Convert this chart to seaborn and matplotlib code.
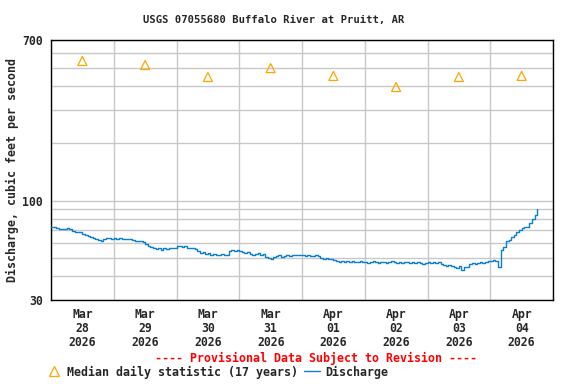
"""USGS gage 07055680 (Buffalo River at Pruitt, AR): recent discharge vs. daily median."""

import matplotlib

matplotlib.use("Agg")

import matplotlib.dates as mdates
import matplotlib.pyplot as plt
import pandas as pd
import seaborn as sns
from matplotlib.lines import Line2D
from matplotlib.ticker import FixedFormatter, FixedLocator, NullFormatter

# --- data ------------------------------------------------------------------
START = "2026-03-28 00:00"
END = "2026-04-05 00:00"

MEDIAN_DAYS = pd.date_range("2026-03-28 12:00", periods=8, freq="D")
MEDIAN_CFS = [543, 517, 447, 498, 453, 396, 447, 453]

# hourly discharge, cfs
DISCHARGE_MAR28 = [72.5, 72.5, 72, 71, 71, 70.5, 71.5, 71, 69, 68.5, 68, 68.5,
                   66.5, 66, 65, 64.5, 63.5, 63, 62, 61.5, 63, 63.5, 63.5, 63]
DISCHARGE_MAR29 = [63.5, 63, 63.5, 63, 62.5, 63, 62.5, 62, 61.5, 61, 61.5, 60.5,
                   59, 58, 57, 56.5, 55.5, 56.5, 55, 56, 55.5, 56, 56.5, 56]
DISCHARGE_MAR30 = [57.5, 58, 57, 57.5, 56.5, 56, 56.5, 55.5, 54, 53, 53.5, 52.5,
                   53, 52, 52.5, 51.5, 52, 52.5, 51.5, 52, 54, 55, 54.5, 55]
DISCHARGE_MAR31 = [54, 53.5, 53, 53.5, 52.5, 52, 52.5, 53, 52, 52.5, 50.5, 50,
                   49.5, 50.5, 51, 51.5, 50.5, 51, 51.5, 51, 51.5, 52, 51.5, 51.5]
DISCHARGE_APR01 = [51.5, 51, 51.5, 51, 51, 51.5, 51, 50, 49.5, 50, 49.5, 49.5,
                   49, 48, 47.5, 48, 47.5, 48, 47.5, 48, 47.5, 47.5, 48, 47.5]
DISCHARGE_APR02 = [47.5, 47, 47.5, 48, 47.5, 47, 47.5, 47.5, 47, 47.5, 48, 47.5,
                   47, 47.5, 47, 47.5, 47.5, 47, 47.5, 47, 47.5, 47, 46.5, 47]
DISCHARGE_APR03 = [47.5, 47, 47.5, 47, 47.5, 46.5, 46, 45.5, 46, 45.5, 45, 44,
                   45.5, 43, 45, 44.5, 46.5, 47, 46.5, 47, 47.5, 47, 47.5, 48]
DISCHARGE_APR04 = [48, 48.5, 48, 44.5, 55, 57, 61, 62, 64, 66, 68, 70,
                   72, 72.5, 73, 76, 80, 84, 90]

Y_TICKS = [30, 100, 700]
Y_GRID = [40, 50, 60, 70, 80, 90, 200, 300, 400, 500, 600]

TITLE = "USGS 07055680 Buffalo River at Pruitt, AR"
Y_LABEL = "Discharge, cubic feet per second"
FOOTER = "---- Provisional Data Subject to Revision ----"
MEDIAN_LABEL = "Median daily statistic (17 years)"
DISCHARGE_LABEL = "Discharge"

ORANGE = "#FFA500"
BLUE = "#0A7FCF"
GRID = "#C8C8C8"
FONT = ["DejaVu Sans Mono"]


def main() -> None:
    sns.set_style("white")
    plt.rcParams["font.family"] = FONT
    plt.rcParams["font.weight"] = "bold"

    discharge = (DISCHARGE_MAR28 + DISCHARGE_MAR29 + DISCHARGE_MAR30 + DISCHARGE_MAR31
                 + DISCHARGE_APR01 + DISCHARGE_APR02 + DISCHARGE_APR03 + DISCHARGE_APR04)
    times = pd.date_range(START, periods=len(discharge), freq="h")

    fig = plt.figure(figsize=(5.76, 3.84), dpi=100)
    ax = fig.add_axes([51 / 576, 1 - 300 / 384, 502 / 576, 260 / 384])

    sns.lineplot(x=times, y=discharge, color=BLUE, linewidth=1.0,
                 drawstyle="steps-post", ax=ax, zorder=3)
    sns.scatterplot(x=MEDIAN_DAYS, y=MEDIAN_CFS, marker="^", s=42, color="none",
                    edgecolor=ORANGE, linewidth=0.9, ax=ax, zorder=4)
    ax.collections[-1].set_facecolor("none")

    ax.set_yscale("log")
    ax.set_ylim(30, 700)
    ax.yaxis.set_major_locator(FixedLocator(Y_TICKS))
    ax.yaxis.set_major_formatter(FixedFormatter([str(v) for v in Y_TICKS]))
    ax.yaxis.set_minor_locator(FixedLocator(Y_GRID))
    ax.yaxis.set_minor_formatter(NullFormatter())

    ax.set_xlim(pd.Timestamp(START), pd.Timestamp(END))
    ax.xaxis.set_major_locator(mdates.DayLocator())
    ax.xaxis.set_major_formatter(NullFormatter())
    ax.xaxis.set_minor_locator(mdates.HourLocator(byhour=12))
    ax.xaxis.set_minor_formatter(mdates.DateFormatter("%b\n%d\n%Y"))

    ax.grid(False)
    ax.xaxis.grid(True, which="major", color=GRID, linewidth=1.0)
    ax.yaxis.grid(True, which="both", color=GRID, linewidth=1.0)
    ax.set_axisbelow(True)
    ax.tick_params(axis="both", which="both", length=0, labelsize=8.3)
    ax.tick_params(axis="y", pad=6)
    ax.tick_params(axis="x", which="minor", pad=6)
    for lbl in ax.get_xticklabels(minor=True):
        lbl.set_linespacing(1.1)
    for spine in ax.spines.values():
        spine.set_color("black")
        spine.set_linewidth(1.0)

    ax.set_xlabel("")
    ax.set_ylabel(Y_LABEL, fontsize=8.4, fontweight="bold")
    ax.yaxis.set_label_coords(-0.064, 0.5)

    fig.text(274 / 576, 1 - 20 / 384, TITLE, ha="center", va="center",
             fontsize=7.6, fontweight="bold")
    fig.text(316 / 576, 1 - 358 / 384, FOOTER, ha="center", va="center",
             fontsize=8.4, fontweight="bold", color="red")

    handles = [
        Line2D([], [], marker="^", linestyle="none", markersize=7.5,
               markerfacecolor="none", markeredgecolor=ORANGE, markeredgewidth=0.9),
        Line2D([], [], color=BLUE, linewidth=1.0),
    ]
    fig.legend(handles, [MEDIAN_LABEL, DISCHARGE_LABEL], loc="center left",
               bbox_to_anchor=(46 / 576, 1 - 372 / 384), ncol=2, frameon=False,
               fontsize=8.4, handlelength=1.4, handletextpad=0.4,
               columnspacing=0.5, borderpad=0, borderaxespad=0)

    fig.savefig("out.png", dpi=100)
    plt.close(fig)


if __name__ == "__main__":
    main()
